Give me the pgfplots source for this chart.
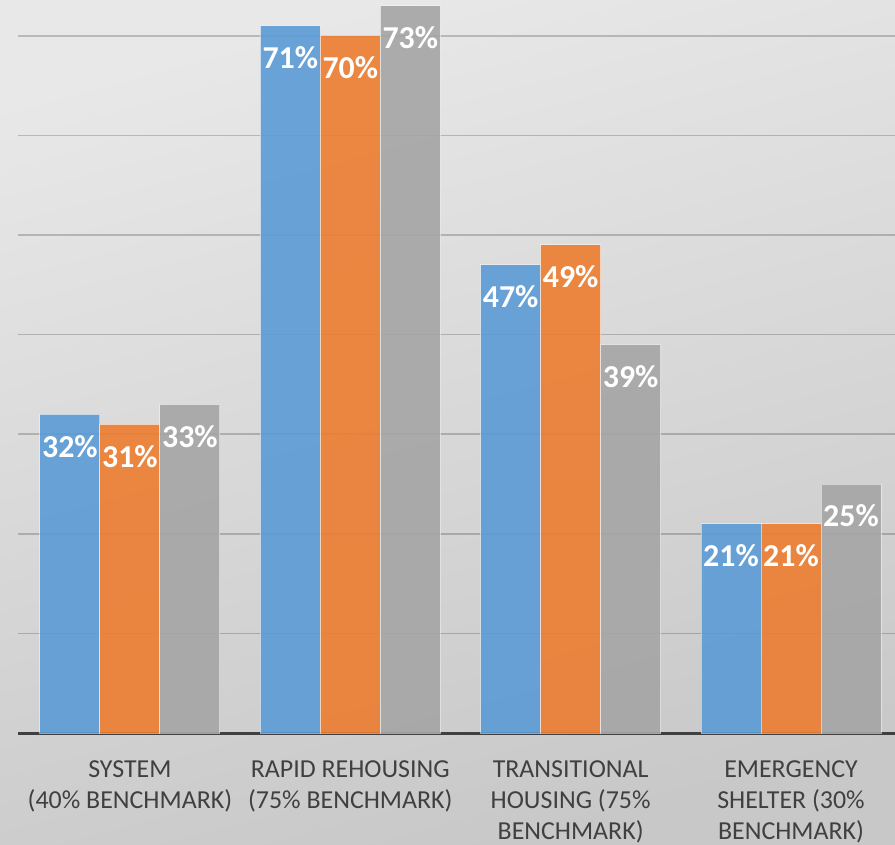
\documentclass[border=0pt]{standalone}
\usepackage{pgfplots}
\pgfplotsset{compat=1.18}
\usepackage{fontspec}
\setmainfont{Carlito}
\definecolor{cblue}{HTML}{5B9BD5}
\definecolor{corange}{HTML}{ED7D31}
\definecolor{cgray}{HTML}{A5A5A5}
\definecolor{labtext}{HTML}{404040}
\definecolor{bgtop}{HTML}{E8E8E8}
\definecolor{bgbot}{HTML}{C8C8C8}
\begin{document}
\begin{tikzpicture}
\useasboundingbox (-18bp,-112bp) rectangle (877bp,733bp);
\shade[top color=bgtop, bottom color=bgbot, shading angle=15] (-18bp,-112bp) rectangle (877bp,733bp);
\begin{axis}[
  at={(0,0)}, anchor=south west,
  scale only axis, width=877bp, height=733bp,
  xmin=-0.508, xmax=3.472, ymin=0, ymax=73.6,
  ybar=0pt, bar width=60bp,
  axis line style={draw=none},
  /pgf/number format/assume math mode=true,
  xtick={0,1,2,3},
  xticklabels={{SYSTEM\\(40\% BENCHMARK)},{RAPID REHOUSING\\(75\% BENCHMARK)},{TRANSITIONAL\\HOUSING (75\%\\BENCHMARK)},{EMERGENCY\\SHELTER (30\%\\BENCHMARK)}},
  xticklabel style={align=center, font=\fontsize{26}{31}\selectfont, text=labtext, yshift=-24bp},
  major tick length=0pt,
  ytick={10,20,30,40,50,60,70}, yticklabels={},
  ymajorgrids,
  major grid style={black, opacity=0.2, line width=1.5bp},
  extra y ticks={0}, extra y tick labels={},
  extra y tick style={major grid style={labtext, opacity=1, line width=3bp}},
  nodes near coords={\pgfmathprintnumber{\pgfplotspointmeta}\%},
  every node near coord/.append style={anchor=center, yshift=-32bp, text=white, font=\fontsize{32}{38}\selectfont\bfseries},
]
\addplot[fill=cblue, fill opacity=0.9, draw=white, draw opacity=0.5, line width=1bp, text opacity=1] coordinates {(0,32) (1,71) (2,47) (3,21)};
\addplot[fill=corange, fill opacity=0.9, draw=white, draw opacity=0.5, line width=1bp, text opacity=1] coordinates {(0,31) (1,70) (2,49) (3,21)};
\addplot[fill=cgray, fill opacity=0.9, draw=white, draw opacity=0.5, line width=1bp, text opacity=1] coordinates {(0,33) (1,73) (2,39) (3,25)};
\end{axis}
\end{tikzpicture}
\end{document}
